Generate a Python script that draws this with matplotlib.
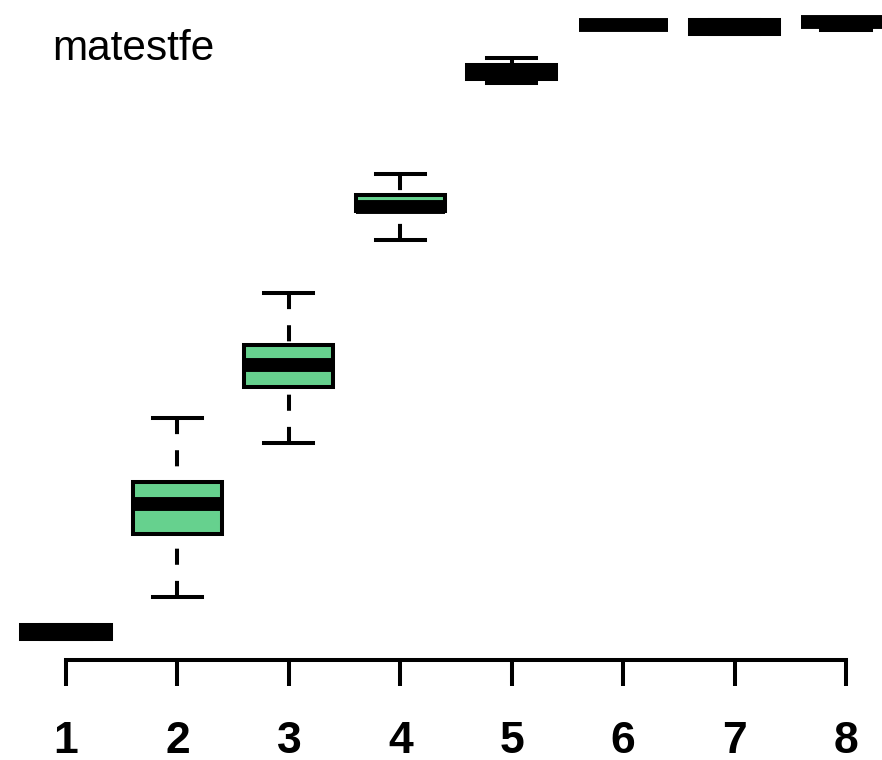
import matplotlib
matplotlib.use("Agg")
import matplotlib.pyplot as plt

# Five-number summaries per group
groups = ["1", "2", "3", "4", "5", "6", "7", "8"]
whislo = [3.2, 9.5, 32.9, 63.6, 87.4, 96.2, 94.8, 95.4]
q1 = [3.2, 19.1, 41.4, 68.0, 88.0, 96.2, 94.8, 96.7]
med = [4.2, 23.6, 44.7, 68.7, 89.1, 96.2, 95.9, 96.7]
q3 = [5.3, 27.0, 47.7, 70.5, 90.1, 96.2, 97.0, 96.7]
whishi = [5.3, 36.7, 55.6, 73.6, 91.2, 96.2, 97.0, 96.7]

title = "matestfe"
fill = "#66d18e"

stats = [
    dict(label=g, whislo=a, q1=b, med=c, q3=d, whishi=e, fliers=[])
    for g, a, b, c, d, e in zip(groups, whislo, q1, med, q3, whishi)
]

fig = plt.figure(figsize=(8.82, 7.6), dpi=100)
ax = fig.add_axes([0, 0, 1, 1])

lw = 2.9
pos = list(range(1, len(groups) + 1))
bp = ax.bxp(
    stats,
    positions=pos,
    widths=0.8,
    capwidths=0.44,
    patch_artist=True,
    showfliers=False,
    boxprops=dict(facecolor=fill, edgecolor="black", linewidth=lw),
    whiskerprops=dict(color="black", linewidth=lw, linestyle=(0, (4, 4))),
    capprops=dict(color="black", linewidth=lw),
    medianprops=dict(color="black", linewidth=10, solid_capstyle="butt"),
)
# dash pattern starts at the whisker cap
for w in bp["whiskers"]:
    x, y = w.get_data()
    w.set_data(x[::-1], y[::-1])

ax.set_xlim(1 - 66 / 111.43, 1 + (882 - 66) / 111.43)
ax.set_ylim(-15.15, 100)

for s in ["top", "right", "left"]:
    ax.spines[s].set_visible(False)
ax.spines["bottom"].set_position(("data", 0))
ax.spines["bottom"].set_bounds(1, len(groups))
ax.spines["bottom"].set_linewidth(lw)
ax.set_yticks([])
ax.set_xticks(pos)
ax.set_xticklabels(groups, fontsize=32, fontweight="bold", family="Liberation Sans")
ax.tick_params(axis="x", direction="out", length=18.7, width=lw, pad=25)
ax.patch.set_visible(False)

fig.text(52 / 882, 1 - 60 / 760, title, fontsize=30.5, family="Liberation Sans",
         va="baseline", ha="left")

fig.savefig("out.png", dpi=100)
